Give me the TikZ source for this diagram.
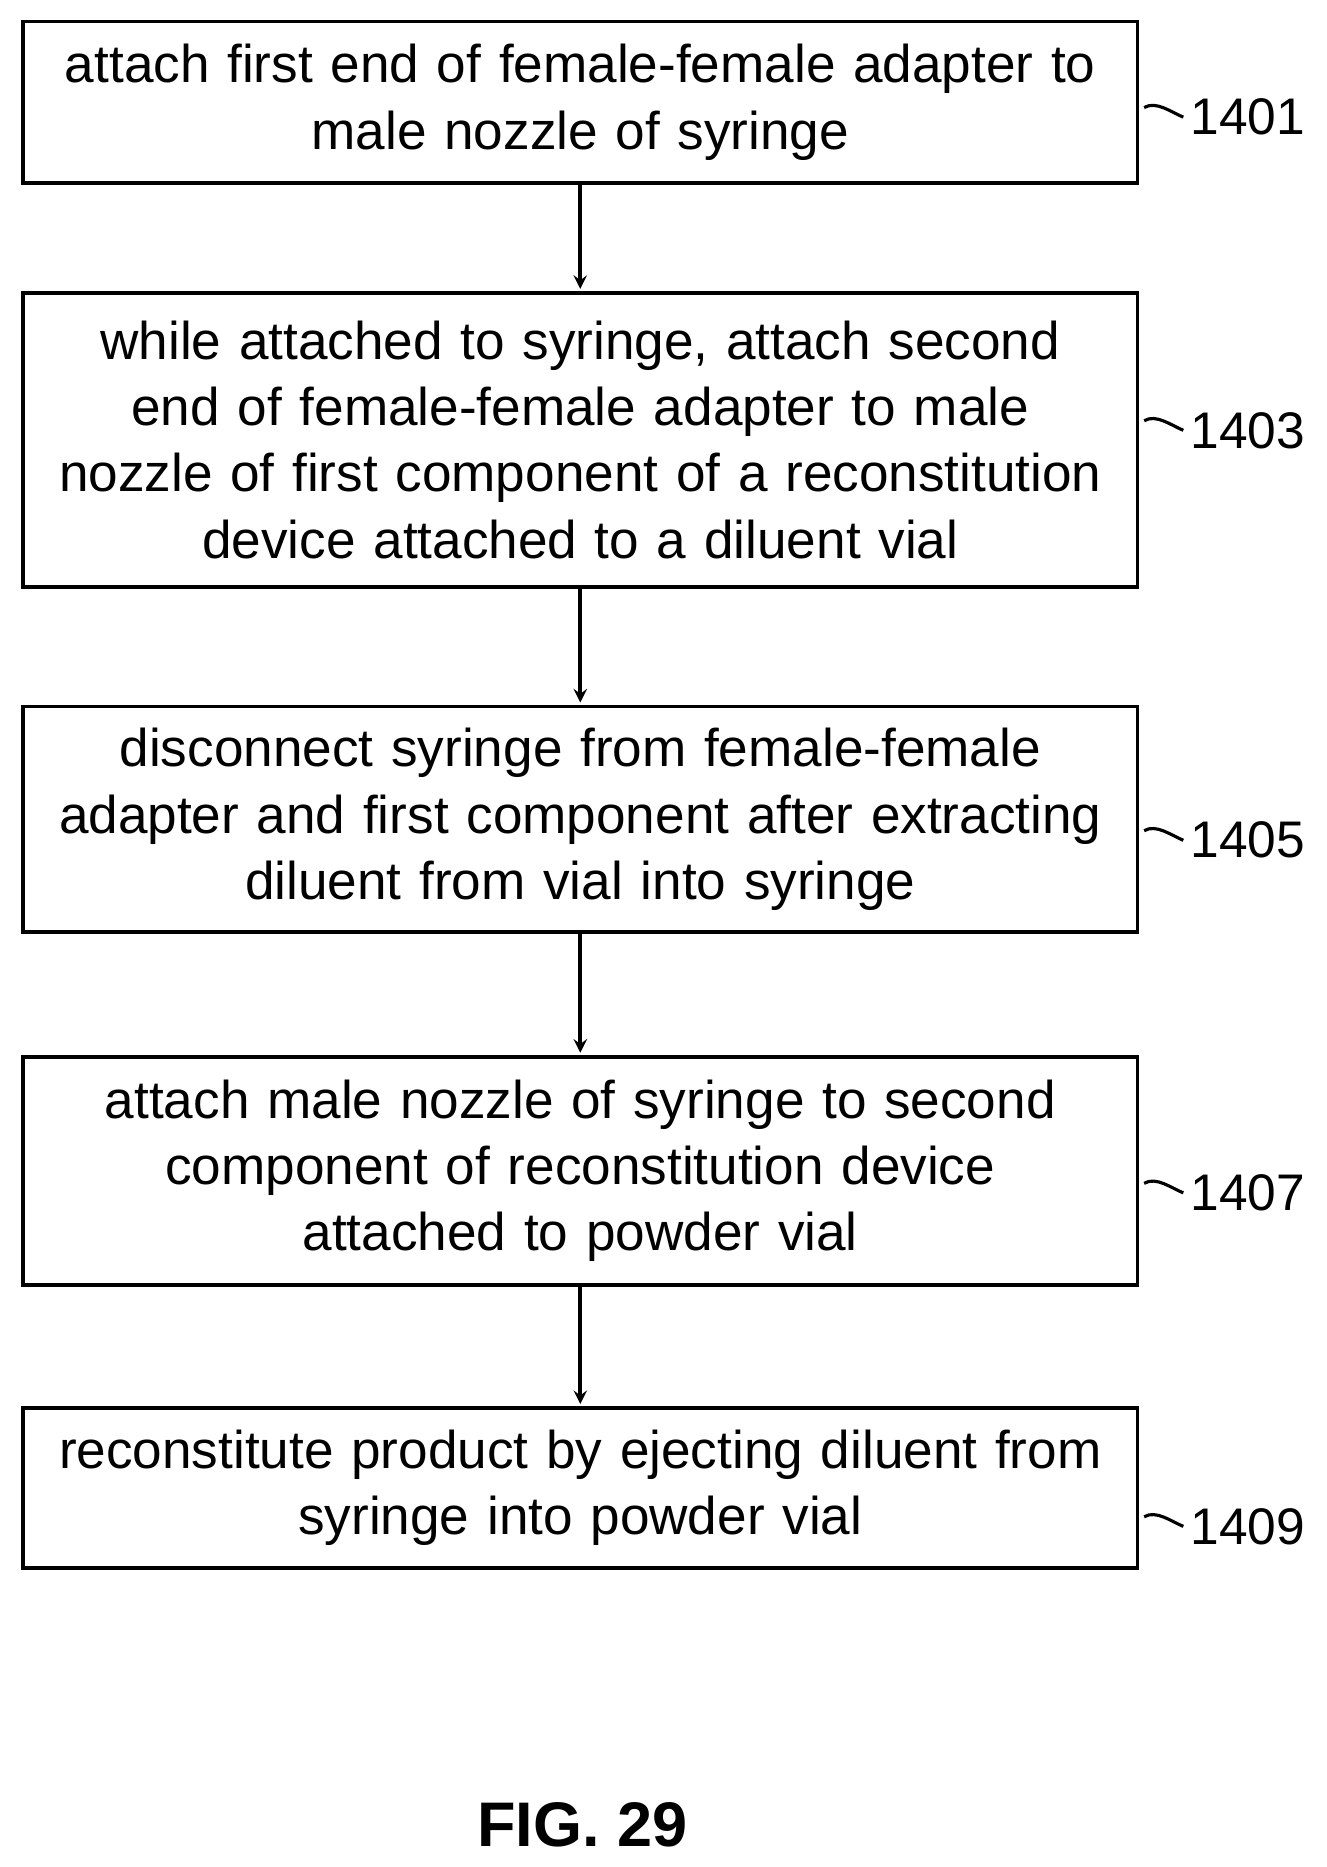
\documentclass[tikz,border=0pt]{standalone}
\usepackage{fontspec}
\setmainfont{Liberation Sans}
\usetikzlibrary{positioning}
\begin{document}
\begin{tikzpicture}[x=0.02cm, y=-0.02cm]
			\tikzstyle{stepbox}=[draw, line width=1.8pt, minimum width=18.65cm, text width=18.5cm, align=center, font=\fontsize{25.3}{31.5}\selectfont, inner sep=0pt]
			\tikzstyle{ref}=[font=\fontsize{24.5}{28}\selectfont, anchor=west]
			\useasboundingbox (0,0) rectangle (1110,1562);
			\node[stepbox, minimum height=2.7cm](s-1401) at (485.5,85.5) {attach first end of female-female adapter to\\male nozzle of syringe};
			\node[stepbox, minimum height=4.92cm](s-1403) at (485.5,368) {while attached to syringe, attach second\\end of female-female adapter to male\\nozzle of first component of a reconstitution\\device attached to a diluent vial};
			\node[stepbox, minimum height=3.78cm](s-1405) at (485.5,685.5) {disconnect syringe from female-female\\adapter and first component after extracting\\diluent from vial into syringe};
			\node[stepbox, minimum height=3.82cm](s-1407) at (485.5,979.5) {attach male nozzle of syringe to second\\component of reconstitution device\\attached to powder vial};
			\node[stepbox, minimum height=2.68cm](s-1409) at (485.5,1245) {reconstitute product by ejecting diluent from\\syringe into powder vial};
			
			\foreach \n/\y in {1401/98,1403/360,1405/703,1407/998,1409/1277}
			{
			\node[ref](l-\n) at (990,\y) {\n};
			\draw[line width=1.5pt] (s-\n.east |- l-\n.west) ++(4,-8) .. controls +(10,-6) and +(-10,-4) .. (l-\n.west);
			}
			
			\foreach \a/\b in {1401/1403,1403/1405,1405/1407,1407/1409}
			\draw[->, line width=1.8pt, >=stealth, shorten >=1pt] (s-\a) -- (s-\b);
			
			\node[font=\fontsize{30}{36}\selectfont\bfseries](fig) at (487,1527) {FIG. 29};
\end{tikzpicture}
\end{document}
